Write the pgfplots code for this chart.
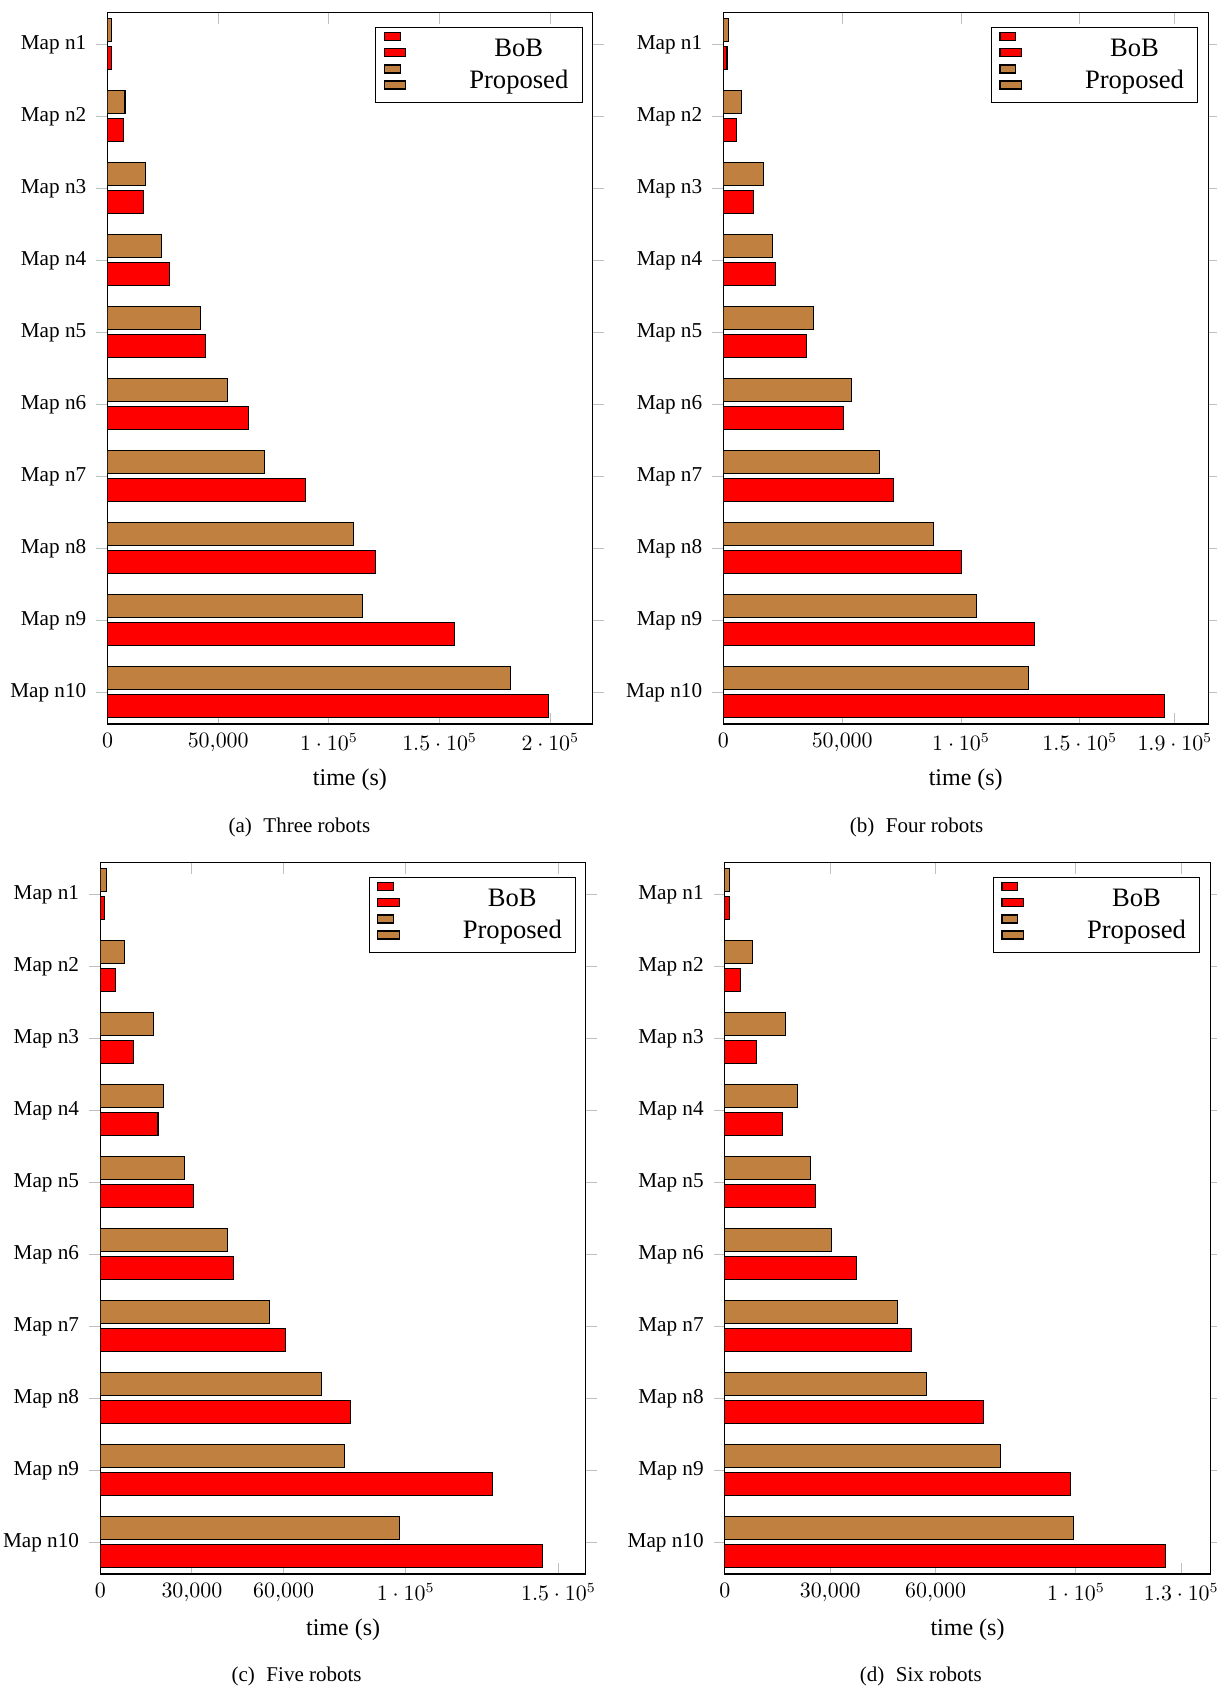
\documentclass[border=0pt]{standalone}
\usepackage{fontspec}
\setmainfont{Liberation Serif}
\usepackage{pgfplots}
\usepackage{pgfplotstable}
\pgfplotsset{compat=1.18}

\definecolor{bobred}{rgb}{1,0,0}
\definecolor{propbrown}{rgb}{0.75,0.5,0.25}

% Exploration time per map (s); y = 10 is Map n1 (top row), y = 1 is Map n10
\pgfplotstableread{
y  bob    prop
10 1700   2000
9  7250   7900
8  16100  17300
7  28000  24500
6  44200  42000
5  63500  54200
4  89600  71100
3  121200 111000
2  156800 115300
1  199100 181900
}\threerobots

\pgfplotstableread{
y  bob    prop
10 1500   2000
9  5600   7700
8  12600  17000
7  22100  20500
6  35000  38000
5  50700  53900
4  71600  65800
3  100200 88400
2  131000 106700
1  185700 128500
}\fourrobots

\pgfplotstableread{
y  bob    prop
10 1400   2100
9  5100   8000
8  10800  17400
7  18900  20800
6  30600  27700
5  43500  41600
4  60500  55300
3  81800  72500
2  128400 79900
1  144700 97900
}\fiverobots

\pgfplotstableread{
y  bob    prop
10 1200   1300
9  4500   7900
8  9100   17200
7  16500  20700
6  25800  24400
5  37500  30400
4  53100  49200
3  73600  57400
2  98500  78400
1  125600 99400
}\sixrobots

\pgfplotsset{
  maptimes/.style={
    scale only axis,
    height=355.85pt,
    anchor=south west,
    xbar,
    bar width=11.5pt,
    ymin=0.557, ymax=10.443,
    xmin=0,
    ytick={1,...,10},
    yticklabels={Map n10,Map n9,Map n8,Map n7,Map n6,Map n5,Map n4,Map n3,Map n2,Map n1},
    scaled x ticks=false,
    xtick align=inside,
    ytick align=outside,
    major tick length=5.7pt,
    tick style={black!25, line width=0.5pt},
    axis line style={line width=0.53pt},
    xlabel={time (s)},
    xlabel style={font=\fontsize{12}{14}\selectfont,
      at={(axis description cs:0.5,0)}, anchor=base, yshift=-30.6pt},
    xticklabel style={font=\fontsize{10.6}{12.5}\selectfont, yshift=-1.2pt},
    yticklabel style={font=\fontsize{10.6}{12.5}\selectfont, xshift=-1.4pt, yshift=-0.4pt},
    legend style={font=\fontsize{13.3}{16}\selectfont,
      at={(0.98,0.98)}, anchor=north east, draw=black, line width=0.53pt,
      inner xsep=4pt, inner ysep=2.67pt, nodes={inner sep=2.67pt, text depth=0.15em}},
    legend cell align=center,
    legend image code/.code={%
      \draw[##1,/tikz/.cd,bar width=4pt,yshift=-2pt,bar shift=0pt]
        plot coordinates {(10.64pt,0cm) (7.98pt,8pt)};},
  },
  bobbar/.style={fill=bobred, draw=black, line width=0.53pt, bar shift=-7pt},
  propbar/.style={fill=propbrown, draw=black, line width=0.53pt, bar shift=7pt},
}

\newcommand{\legtext}[1]{\hspace{28.7pt}\makebox[50pt]{#1}}
\newcommand{\subcap}[2]{\fontsize{10.5}{12.5}\selectfont(#1)\hspace{0.55em}#2}

\begin{document}
\begin{tikzpicture}
\useasboundingbox (0,0) rectangle (608pt,-843pt);

% (a) three robots
\begin{axis}[maptimes, at={(53.75pt,-362pt)}, width=242.45pt,
    xmax=219000, xtick={0,50000,100000,150000,200000}]
  \addplot[bobbar] table[x=bob, y=y] {\threerobots};
  \addlegendentry{\legtext{BoB}}
  \addplot[propbar] table[x=prop, y=y] {\threerobots};
  \addlegendentry{\legtext{Proposed}}
\end{axis}
\node[anchor=base] at (149.7pt,-416.4pt) {\subcap{a}{Three robots}};

% (b) four robots
\begin{axis}[maptimes, at={(361.7pt,-362pt)}, width=242.35pt,
    xmax=204000, xtick={0,50000,100000,150000,190000}]
  \addplot[bobbar] table[x=bob, y=y] {\fourrobots};
  \addlegendentry{\legtext{BoB}}
  \addplot[propbar] table[x=prop, y=y] {\fourrobots};
  \addlegendentry{\legtext{Proposed}}
\end{axis}
\node[anchor=base] at (458.3pt,-416.4pt) {\subcap{b}{Four robots}};

% (c) five robots
\begin{axis}[maptimes, at={(50.15pt,-787pt)}, width=242.8pt,
    xmax=159000, xtick={0,30000,60000,100000,150000}]
  \addplot[bobbar] table[x=bob, y=y] {\fiverobots};
  \addlegendentry{\legtext{BoB}}
  \addplot[propbar] table[x=prop, y=y] {\fiverobots};
  \addlegendentry{\legtext{Proposed}}
\end{axis}
\node[anchor=base] at (148.3pt,-840.6pt) {\subcap{c}{Five robots}};

% (d) six robots
\begin{axis}[maptimes, at={(362.45pt,-787pt)}, width=242.6pt,
    xmax=138200, xtick={0,30000,60000,100000,130000}]
  \addplot[bobbar] table[x=bob, y=y] {\sixrobots};
  \addlegendentry{\legtext{BoB}}
  \addplot[propbar] table[x=prop, y=y] {\sixrobots};
  \addlegendentry{\legtext{Proposed}}
\end{axis}
\node[anchor=base] at (460.4pt,-840.6pt) {\subcap{d}{Six robots}};
\end{tikzpicture}
\end{document}
